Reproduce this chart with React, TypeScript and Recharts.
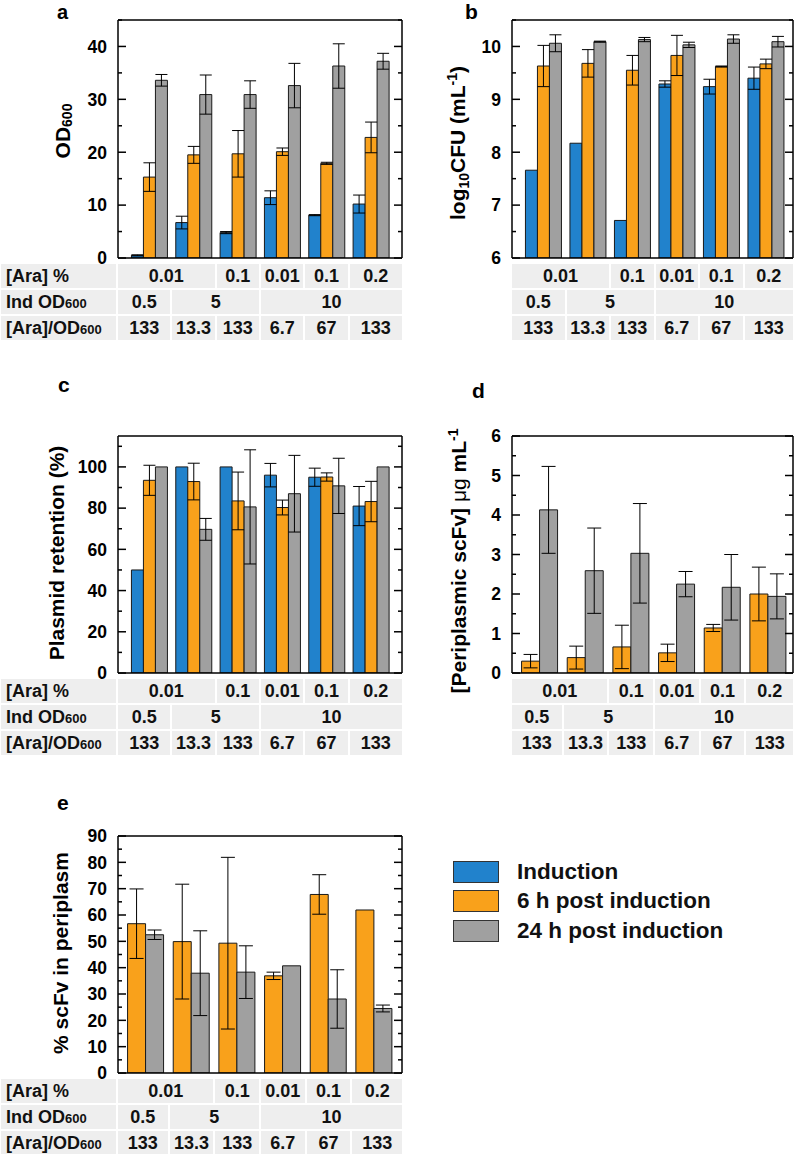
import React from "react";
import { BarChart, Bar, XAxis, YAxis, ErrorBar } from "recharts";

// ---------- categories & table labels ----------
const categories = [
  "0.01% OD0.5",
  "0.01% OD5",
  "0.1% OD5",
  "0.01% OD10",
  "0.1% OD10",
  "0.2% OD10",
];
const araLabels = ["0.01", "0.1", "0.01", "0.1", "0.2"];
const araSpans = [2, 1, 1, 1, 1];
const indLabels = ["0.5", "5", "10"];
const indSpans = [1, 2, 3];
const ratioLabels = ["133", "13.3", "133", "6.7", "67", "133"];
const ratioSpans = [1, 1, 1, 1, 1, 1];

const seriesNames = ["Induction", "6 h post induction", "24 h post induction"];
const seriesColors = ["#2182cc", "#f9a11b", "#a0a0a0"];

// ---------- panel a : OD600 ----------
const aInd = [0.5, 6.7, 4.8, 11.4, 8.1, 10.2];
const aIndErr = [0.1, 1.2, 0.2, 1.3, 0.1, 1.7];
const a6h = [15.3, 19.5, 19.7, 20.1, 17.9, 22.8];
const a6hErr = [2.7, 1.6, 4.4, 0.7, 0.2, 2.9];
const a24h = [33.6, 30.9, 30.9, 32.6, 36.3, 37.2];
const a24hErr = [1.1, 3.7, 2.6, 4.2, 4.2, 1.5];
const aTicks = [0, 5, 10, 15, 20, 25, 30, 35, 40, 45];

// ---------- panel b : log10 CFU ----------
const bInd = [7.66, 8.17, 6.71, 9.29, 9.24, 9.4];
const bIndErr = [0, 0, 0, 0.06, 0.14, 0.21];
const b6h = [9.63, 9.68, 9.55, 9.83, 9.62, 9.67];
const b6hErr = [0.39, 0.26, 0.28, 0.38, 0.01, 0.09];
const b24h = [10.06, 10.09, 10.13, 10.03, 10.14, 10.09];
const b24hErr = [0.16, 0.01, 0.04, 0.05, 0.08, 0.1];
const bTicks = [6, 6.5, 7, 7.5, 8, 8.5, 9, 9.5, 10, 10.5];

// ---------- panel c : plasmid retention ----------
const cInd = [50, 100, 100, 96, 95, 81];
const cIndErr = [0, 0, 0, 5.7, 4.4, 9.5];
const c6h = [93.5, 92.9, 83.5, 80.3, 95.1, 83.2];
const c6hErr = [7.3, 8.9, 14, 3.6, 2, 9.8];
const c24h = [100, 69.7, 80.6, 87, 90.8, 100];
const c24hErr = [0, 5.3, 27.7, 18.6, 13.4, 0];
const cTicks = [0, 10, 20, 30, 40, 50, 60, 70, 80, 90, 100, 110];

// ---------- panel d : periplasmic scFv ----------
const d6h = [0.3, 0.39, 0.66, 0.51, 1.14, 2.0];
const d6hErr = [0.17, 0.29, 0.55, 0.22, 0.09, 0.68];
const d24h = [4.13, 2.59, 3.03, 2.25, 2.17, 1.94];
const d24hErr = [1.1, 1.08, 1.26, 0.32, 0.83, 0.57];
const dTicks = [0, 0.5, 1, 1.5, 2, 2.5, 3, 3.5, 4, 4.5, 5, 5.5, 6];

// ---------- panel e : % scFv in periplasm ----------
const e6h = [56.7, 49.9, 49.3, 36.9, 67.8, 61.9];
const e6hErr = [13.2, 21.8, 32.6, 1.4, 7.5, 0];
const e24h = [52.5, 37.9, 38.3, 40.7, 28.1, 24.5];
const e24hErr = [1.8, 16.1, 10, 0, 11.1, 1.3];
const eTicks = [0, 5, 10, 15, 20, 25, 30, 35, 40, 45, 50, 55, 60, 65, 70, 75, 80, 85, 90];

const FONT = "'Liberation Sans', Arial, Helvetica, sans-serif";

type Series = { key: string; idx: number; values: number[]; errs: number[] };
type Cfg = {
  plot: { l: number; r: number; t: number; b: number };
  domain: [number, number];
  ticks: number[];
  major: number;
  pad: [number, number];
  series: Series[];
  capW: number;
  labelColumn: boolean;
};

const panels: Cfg[] = [
  {
    plot: { l: 118, r: 402, t: 20, b: 258 },
    domain: [0, 45],
    ticks: aTicks,
    major: 10,
    pad: [9, 9],
    series: [
      { key: "ind", idx: 0, values: aInd, errs: aIndErr },
      { key: "h6", idx: 1, values: a6h, errs: a6hErr },
      { key: "h24", idx: 2, values: a24h, errs: a24hErr },
    ],
    capW: 6,
    labelColumn: true,
  },
  {
    plot: { l: 512, r: 793, t: 20, b: 258 },
    domain: [6, 10.5],
    ticks: bTicks,
    major: 1,
    pad: [9, 5],
    series: [
      { key: "ind", idx: 0, values: bInd, errs: bIndErr },
      { key: "h6", idx: 1, values: b6h, errs: b6hErr },
      { key: "h24", idx: 2, values: b24h, errs: b24hErr },
    ],
    capW: 6,
    labelColumn: false,
  },
  {
    plot: { l: 118, r: 402, t: 436, b: 673 },
    domain: [0, 115],
    ticks: cTicks,
    major: 20,
    pad: [9, 9],
    series: [
      { key: "ind", idx: 0, values: cInd, errs: cIndErr },
      { key: "h6", idx: 1, values: c6h, errs: c6hErr },
      { key: "h24", idx: 2, values: c24h, errs: c24hErr },
    ],
    capW: 6,
    labelColumn: true,
  },
  {
    plot: { l: 512, r: 793, t: 436, b: 673 },
    domain: [0, 6],
    ticks: dTicks,
    major: 1,
    pad: [5, 2],
    series: [
      { key: "h6", idx: 1, values: d6h, errs: d6hErr },
      { key: "h24", idx: 2, values: d24h, errs: d24hErr },
    ],
    capW: 7,
    labelColumn: false,
  },
  {
    plot: { l: 118, r: 402, t: 836, b: 1073 },
    domain: [0, 90],
    ticks: eTicks,
    major: 10,
    pad: [5, 5],
    series: [
      { key: "h6", idx: 1, values: e6h, errs: e6hErr },
      { key: "h24", idx: 2, values: e24h, errs: e24hErr },
    ],
    capW: 7,
    labelColumn: true,
  },
];

function Panel({ cfg }: { cfg: Cfg }) {
  const { plot, domain, ticks, major, pad, series, capW } = cfg;
  const svgLeft = plot.l - 60;
  const svgTop = plot.t - 11;
  const width = plot.r + 4 - svgLeft;
  const height = plot.b + 11 - svgTop;
  const data = categories.map((cat, i) => {
    const row: any = { cat };
    series.forEach((s) => {
      row[s.key] = s.values[i];
      row[s.key + "Err"] = s.errs[i];
    });
    return row;
  });
  const isMajor = (v: number) => Math.abs(v / major - Math.round(v / major)) < 1e-6;
  const leftTick = (p: any) => {
    const v = p.payload.value;
    if (isMajor(v)) {
      return (
        <g>
          <line x1={p.x} x2={p.x + 8} y1={p.y} y2={p.y} stroke="#000" strokeWidth={1.5} />
          <text
            x={p.x - 11}
            y={p.y}
            dy="0.36em"
            textAnchor="end"
            fontSize={17.5}
            fontWeight="bold"
            fontFamily={FONT}
            fill="#000"
          >
            {String(v)}
          </text>
        </g>
      );
    }
    return <line x1={p.x} x2={p.x + 4} y1={p.y} y2={p.y} stroke="#000" strokeWidth={1.5} />;
  };
  const rightTick = (p: any) => {
    const v = p.payload.value;
    const len = isMajor(v) ? 8 : 4;
    return <line x1={p.x} x2={p.x - len} y1={p.y} y2={p.y} stroke="#000" strokeWidth={1.5} />;
  };
  const axisLine = { stroke: "#000", strokeWidth: 1.5 };
  return (
    <div style={{ position: "absolute", left: svgLeft, top: svgTop }}>
      <BarChart
        width={width}
        height={height}
        data={data}
        margin={{ top: 10, right: 2, bottom: 10, left: 0 }}
        barCategoryGap="10%"
        barGap={0}
      >
        <XAxis
          xAxisId="b"
          dataKey="cat"
          orientation="bottom"
          height={1}
          tick={false}
          tickLine={false}
          axisLine={axisLine}
          padding={{ left: pad[0], right: pad[1] }}
        />
        <XAxis
          xAxisId="t"
          dataKey="cat"
          orientation="top"
          height={1}
          tick={false}
          tickLine={false}
          axisLine={axisLine}
        />
        <YAxis
          yAxisId="l"
          orientation="left"
          width={60}
          type="number"
          domain={domain}
          ticks={ticks}
          interval={0}
          tickSize={0}
          tickMargin={0}
          tickLine={false}
          axisLine={axisLine}
          tick={leftTick}
          allowDataOverflow
        />
        <YAxis
          yAxisId="r"
          orientation="right"
          width={2}
          type="number"
          domain={domain}
          ticks={ticks}
          interval={0}
          tickSize={0}
          tickMargin={0}
          tickLine={false}
          axisLine={axisLine}
          tick={rightTick}
          allowDataOverflow
        />
        {series.map((s) => (
          <Bar
            key={s.key}
            xAxisId="b"
            yAxisId="l"
            dataKey={s.key}
            name={seriesNames[s.idx]}
            fill={seriesColors[s.idx]}
            stroke="#1a1a1a"
            strokeWidth={1}
            isAnimationActive={false}
          >
            <ErrorBar
              dataKey={s.key + "Err"}
              direction="y"
              width={capW}
              stroke="#000"
              strokeWidth={1}
              isAnimationActive={false}
            />
          </Bar>
        ))}
      </BarChart>
    </div>
  );
}

const rowLabels: React.ReactNode[] = [
  <>[Ara] %</>,
  <>
    Ind OD<span style={{ fontSize: 13 }}>600</span>
  </>,
  <>
    [Ara]/OD<span style={{ fontSize: 13 }}>600</span>
  </>,
];
const tableRows = [
  { labels: araLabels, spans: araSpans },
  { labels: indLabels, spans: indSpans },
  { labels: ratioLabels, spans: ratioSpans },
];

function Table({ cfg }: { cfg: Cfg }) {
  const { plot, pad, labelColumn } = cfg;
  const n = categories.length;
  const band = (plot.r - plot.l - pad[0] - pad[1]) / n;
  const edge = (k: number) => (k === 0 ? plot.l : k === n ? plot.r : plot.l + pad[0] + k * band);
  const rowH = 24;
  const gap = 2;
  const top0 = plot.b + 6;
  const cells: React.ReactNode[] = [];
  tableRows.forEach((row, ri) => {
    const top = top0 + ri * (rowH + gap);
    if (labelColumn) {
      cells.push(
        <div
          key={`lab${ri}`}
          style={{
            position: "absolute",
            left: 1,
            top,
            width: plot.l - 3,
            height: rowH,
            background: "#eeeeee",
            lineHeight: rowH + "px",
            paddingLeft: 5,
            boxSizing: "border-box",
            fontSize: 18,
            fontWeight: "bold",
            whiteSpace: "nowrap",
          }}
        >
          {rowLabels[ri]}
        </div>
      );
    }
    let k = 0;
    row.labels.forEach((lab, ci) => {
      const k0 = k;
      const k1 = k + row.spans[ci];
      k = k1;
      const left = edge(k0) + (k0 > 0 ? 1 : 0);
      const right = edge(k1) - (k1 < n ? 1 : 0);
      cells.push(
        <div
          key={`c${ri}-${ci}`}
          style={{
            position: "absolute",
            left,
            top,
            width: right - left,
            height: rowH,
            background: "#eeeeee",
            lineHeight: rowH + "px",
            textAlign: "center",
            fontSize: 18,
            fontWeight: "bold",
            whiteSpace: "nowrap",
          }}
        >
          {lab}
        </div>
      );
    });
  });
  return <>{cells}</>;
}

function Legend() {
  return (
    <div style={{ position: "absolute", left: 453, top: 857 }}>
      {seriesNames.map((nm, i) => (
        <div key={nm} style={{ display: "flex", alignItems: "center", height: 29.5 }}>
          <div
            style={{
              width: 46,
              height: 22,
              background: seriesColors[i],
              border: "1px solid #333",
              boxSizing: "border-box",
            }}
          />
          <div style={{ marginLeft: 18, fontSize: 22.5, fontWeight: "bold", whiteSpace: "nowrap" }}>{nm}</div>
        </div>
      ))}
    </div>
  );
}

function Overlay() {
  const t = { fontFamily: FONT, fontWeight: "bold" as const, fill: "#000" };
  return (
    <svg
      width={797}
      height={1154}
      style={{ position: "absolute", left: 0, top: 0, pointerEvents: "none" }}
    >
      <text x={57} y={19} fontSize={20} {...t}>a</text>
      <text x={465} y={19} fontSize={21} {...t}>b</text>
      <text x={58} y={392} fontSize={21} {...t}>c</text>
      <text x={472} y={398} fontSize={21} {...t}>d</text>
      <text x={57} y={810} fontSize={21} {...t}>e</text>

      <text transform="translate(70,131) rotate(-90)" textAnchor="middle" fontSize={21} {...t}>
        OD<tspan fontSize={14} dy={2}>600</tspan>
      </text>
      <text transform="translate(465,143) rotate(-90)" textAnchor="middle" fontSize={21} {...t}>
        log<tspan fontSize={14} dy={4}>10</tspan>
        <tspan dy={-4}>CFU (mL</tspan>
        <tspan fontSize={14} dy={-8}>-1</tspan>
        <tspan dy={8}>)</tspan>
      </text>
      <text transform="translate(64,553) rotate(-90)" textAnchor="middle" fontSize={21} {...t}>
        Plasmid retention (%)
      </text>
      <text transform="translate(466,561) rotate(-90)" textAnchor="middle" fontSize={21} {...t}>
        [Periplasmic scFv]{" "}
        <tspan fontWeight="normal">μg</tspan> mL
        <tspan fontSize={14} dy={-8}>-1</tspan>
      </text>
      <text transform="translate(68,953) rotate(-90)" textAnchor="middle" fontSize={21} {...t}>
        % scFv in periplasm
      </text>
    </svg>
  );
}

export default function App() {
  return (
    <div
      style={{
        position: "absolute",
        left: 0,
        top: 0,
        width: 797,
        height: 1154,
        background: "#fff",
        overflow: "hidden",
        fontFamily: FONT,
        color: "#111",
      }}
    >
      {panels.map((p, i) => (
        <React.Fragment key={i}>
          <Panel cfg={p} />
          <Table cfg={p} />
        </React.Fragment>
      ))}
      <Legend />
      <Overlay />
    </div>
  );
}
